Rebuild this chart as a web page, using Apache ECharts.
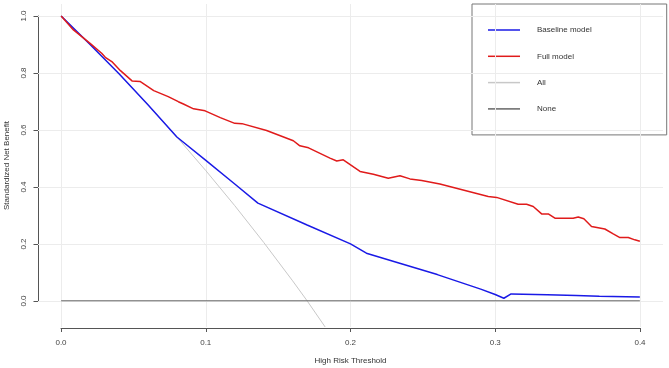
<!DOCTYPE html>
<html>
<head>
<meta charset="utf-8">
<script src="https://cdn.jsdelivr.net/npm/echarts@6/dist/echarts.min.js"></script>
<style>
html, body { margin: 0; padding: 0; background: #fff; }
#dca { width: 669px; height: 368px; }
</style>
</head>
<body>
<div id="dca"></div>
<script>
// values
var baselineX = [0, 0.01, 0.02, 0.04, 0.06, 0.08, 0.1, 0.12, 0.136, 0.17, 0.2, 0.211, 0.234, 0.26, 0.29, 0.3, 0.306, 0.311, 0.336, 0.356, 0.372, 0.4];
var baselineY = [1, 0.95, 0.9, 0.797, 0.688, 0.575, 0.493, 0.41, 0.343, 0.266, 0.2, 0.167, 0.132, 0.092, 0.041, 0.022, 0.009, 0.024, 0.021, 0.019, 0.016, 0.013];

var fullX = [0, 0.0085, 0.02, 0.028, 0.0305, 0.035, 0.041, 0.049, 0.0545, 0.064, 0.074, 0.081, 0.0845, 0.0915, 0.0995, 0.11, 0.12, 0.125, 0.142, 0.1605, 0.165, 0.171, 0.1858, 0.1905, 0.195, 0.2066, 0.2158, 0.2261, 0.2342, 0.2411, 0.2492, 0.2618, 0.2952, 0.301, 0.3159, 0.3217, 0.3263, 0.3321, 0.3367, 0.3413, 0.3539, 0.3574, 0.3613, 0.3666, 0.3758, 0.3816, 0.3862, 0.392, 0.3965, 0.4];
var fullY = [1, 0.951, 0.904, 0.869, 0.855, 0.84, 0.808, 0.772, 0.77, 0.738, 0.717, 0.699, 0.691, 0.674, 0.667, 0.643, 0.623, 0.622, 0.598, 0.562, 0.544, 0.537, 0.501, 0.491, 0.495, 0.454, 0.444, 0.43, 0.439, 0.428, 0.422, 0.41, 0.366, 0.363, 0.339, 0.339, 0.331, 0.305, 0.305, 0.29, 0.29, 0.294, 0.288, 0.261, 0.252, 0.235, 0.222, 0.222, 0.214, 0.209];

var allX = [0, 0.02, 0.04, 0.06, 0.08, 0.1, 0.12, 0.14, 0.16, 0.17, 0.1825];
var allY = [1, 0.9, 0.797, 0.688, 0.575, 0.457, 0.334, 0.205, 0.07, 0, -0.092];

var noneX = [0, 0.4];
var noneY = [0, 0];

var xTicks = [0, 0.1, 0.2, 0.3, 0.4];
var yTicks = [0, 0.2, 0.4, 0.6, 0.8, 1.0];

function pairs(xs, ys) {
    var out = [];
    for (var i = 0; i < xs.length; i++) {
        out.push([xs[i], ys[i]]);
    }
    return out;
}

var gridMarks = [];
xTicks.forEach(function (v) { gridMarks.push({ xAxis: v }); });
yTicks.forEach(function (v) { gridMarks.push({ yAxis: v }); });

var font = 'Liberation Sans, Arial, sans-serif';
var tickFmt = function (v) { return v.toFixed(1); };

var chart = echarts.init(document.getElementById('dca'));
var option = {
    backgroundColor: '#FFFFFF',
    animation: false,
    textStyle: { fontFamily: font },
    grid: [
        // plot region (R pads the ranges by 4%)
        { left: 38, right: 6, top: 4, bottom: 41, outerBoundsMode: 'none', containLabel: false },
        // axis region: exactly the tick range
        { left: 61, right: 29, top: 16, bottom: 67, outerBoundsMode: 'none', containLabel: false }
    ],
    legend: {
        orient: 'vertical',
        left: 472,
        top: 4,
        padding: [21, 75, 21, 16],
        itemGap: 16.3,
        itemWidth: 32,
        itemHeight: 1.5,
        icon: 'rect',
        backgroundColor: '#fff',
        borderColor: '#777',
        borderWidth: 1,
        borderRadius: 0,
        textStyle: { fontSize: 8, color: '#333', fontFamily: font, lineHeight: 10, padding: [0, 0, 0, 12] },
        data: ['Baseline model', 'Full model', 'All', 'None']
    },
    xAxis: [
        {
            gridIndex: 0, type: 'value', min: -0.016, max: 0.416,
            axisLine: { show: false }, axisTick: { show: false }, axisLabel: { show: false }, splitLine: { show: false },
            name: 'High Risk Threshold', nameLocation: 'middle', nameGap: 30,
            nameTextStyle: { fontSize: 8, color: '#333', fontFamily: font }
        },
        {
            gridIndex: 1, type: 'value', min: 0, max: 0.4, interval: 0.1, position: 'bottom', offset: 27,
            axisLine: { show: true, onZero: false, lineStyle: { color: '#555', width: 1 } },
            axisTick: { show: true, length: 4, lineStyle: { color: '#555' } },
            axisLabel: { fontSize: 8, color: '#444', margin: 11, formatter: tickFmt },
            splitLine: { show: false }
        }
    ],
    yAxis: [
        {
            gridIndex: 0, type: 'value', min: -0.092, max: 1.042,
            axisLine: { show: false }, axisTick: { show: false }, axisLabel: { show: false }, splitLine: { show: false },
            name: 'Standardized Net Benefit', nameLocation: 'middle', nameGap: 27, nameRotate: 90,
            nameTextStyle: { fontSize: 8, color: '#333', fontFamily: font }
        },
        {
            gridIndex: 1, type: 'value', min: 0, max: 1, interval: 0.2, position: 'left', offset: 23,
            axisLine: { show: true, onZero: false, lineStyle: { color: '#555', width: 1 } },
            axisTick: { show: true, length: 4.5, lineStyle: { color: '#555' } },
            axisLabel: { fontSize: 8, color: '#444', margin: 10, rotate: 90, formatter: tickFmt },
            splitLine: { show: false }
        }
    ],
    series: [
        {
            name: 'grid', type: 'line', z: 0, data: [], silent: true,
            markLine: {
                silent: true, symbol: ['none', 'none'], label: { show: false },
                lineStyle: { color: '#ececec', type: 'solid', width: 1 },
                emphasis: { disabled: true },
                data: gridMarks
            }
        },
        {
            name: 'All', type: 'line', z: 5, data: pairs(allX, allY),
            showSymbol: false, color: '#c8c8c8', lineStyle: { width: 1, color: '#c8c8c8' }
        },
        {
            name: 'None', type: 'line', z: 5, data: pairs(noneX, noneY),
            showSymbol: false, color: '#666', lineStyle: { width: 1, color: '#666' }
        },
        {
            name: 'Baseline model', type: 'line', z: 6, data: pairs(baselineX, baselineY),
            showSymbol: false, color: '#1a1ae6', lineStyle: { width: 1.5, color: '#1a1ae6' }
        },
        {
            name: 'Full model', type: 'line', z: 7, data: pairs(fullX, fullY),
            showSymbol: false, color: '#e01b1b', lineStyle: { width: 1.5, color: '#e01b1b' }
        }
    ]
};
chart.setOption(option);
window.addEventListener('resize', function () {
    chart.resize();
});
</script>
</body>
</html>
